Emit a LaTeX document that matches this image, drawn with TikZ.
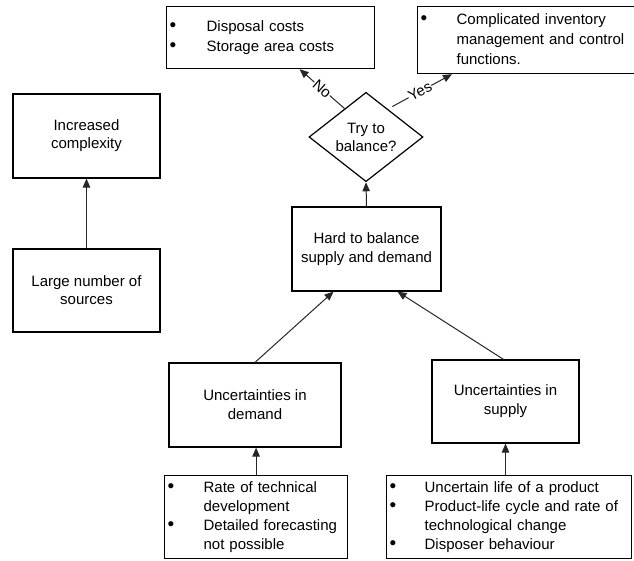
\documentclass[tikz,border=0pt]{standalone}
\usepackage{fontspec}
\setmainfont{Liberation Sans}
\usetikzlibrary{shapes.geometric,arrows.meta}
% bullet used in the list boxes
\newcommand\lbul{{\fontsize{19bp}{19bp}\selectfont\textbullet}}
\begin{document}
\begin{tikzpicture}[x=1bp,y=-1bp,
  every node/.style={font=\fontsize{15bp}{19bp}\selectfont},
  box/.style={draw, line width=1.2bp, align=center, inner sep=0pt},
  listbox/.style={draw, line width=1.2bp, align=left, inner xsep=3bp,
    inner ysep=0pt, anchor=north west},
  arr/.style={line width=1bp, draw=black!85,
    -{Triangle[length=9bp,width=7.5bp]}},
  edgelabel/.style={sloped, fill=white, inner sep=0.5bp},
]
\useasboundingbox (0,0) rectangle (634,561);
\clip (0,0) rectangle (634,561);

% outcome boxes at the top
\node[listbox, text width=202bp, minimum height=62bp,
  font=\fontsize{15bp}{20bp}\selectfont] (disp) at (166,6)
  {\begin{tabular}{@{}p{37bp}@{}l@{}}
   \lbul & Disposal costs\\
   \lbul & Storage area costs
   \end{tabular}};
\node[listbox, text width=238bp, minimum height=67bp,
  font=\fontsize{15bp}{20bp}\selectfont] (compl) at (417,6)
  {\begin{tabular}{@{}p{36bp}@{}l@{}}
   \lbul & Complicated inventory\\
         & management and control\\
   \multicolumn{2}{@{}l@{}}{\hspace{36bp}functions.}
   \end{tabular}};

% decision
\node[draw, diamond, line width=1.2bp, minimum width=114bp, minimum height=87bp,
  inner sep=0pt, align=center, font=\fontsize{15bp}{18bp}\selectfont] (dia) at (366,137)
  {Try to\\balance?};

% left chain
\node[box, minimum width=147bp, minimum height=84bp,
  font=\fontsize{15bp}{18bp}\selectfont] (incr) at (86.5,136)
  {Increased\\complexity};
\node[box, minimum width=147bp, minimum height=83bp,
  font=\fontsize{15bp}{18bp}\selectfont] (large) at (86.5,290.5)
  {Large number of\\sources};

% central chain
\node[box, minimum width=149bp, minimum height=84bp] (hard) at (366.5,249)
  {Hard to balance\\supply and demand};
\node[box, minimum width=172bp, minimum height=84bp] (dem) at (255,405)
  {Uncertainties in\\demand};
\node[box, minimum width=147bp, minimum height=83bp] (sup) at (505.5,401.5)
  {Uncertainties in\\supply};

% cause lists at the bottom
\node[listbox, text width=177bp, minimum height=83bp] (rate) at (164,475)
  {\begin{tabular}{@{}p{36bp}@{}l@{}}
   \lbul & Rate of technical\\
         & development\\
   \lbul & Detailed forecasting\\
         & not possible
   \end{tabular}};
\node[listbox, text width=239bp, minimum height=83bp] (life) at (386,475)
  {\begin{tabular}{@{}p{35bp}@{}l@{}}
   \lbul & Uncertain life of a product\\
   \lbul & Product-life cycle and rate of\\
         & technological change\\
   \lbul & Disposer behaviour
   \end{tabular}};

% connectors
\draw[arr] (large.north) -- (incr.south);
\draw[arr] (rate.north) -- (rate.north |- dem.south);
\draw[arr] (life.north -| sup.south) -- (sup.south);
\draw[arr] (dem.north) -- ([xshift=-33bp]hard.south);
\draw[arr] ([xshift=-2bp]sup.north) -- ([xshift=31bp]hard.south);
\draw[arr] (hard.north) -- (dia.south);
\draw[arr] (dia.127) -- node[edgelabel] {No} ([xshift=29bp]disp.south);
\draw[arr, shorten <=5bp] (dia.52) -- node[edgelabel] {Yes}
  ([xshift=35bp]compl.south west);
\end{tikzpicture}
\end{document}
